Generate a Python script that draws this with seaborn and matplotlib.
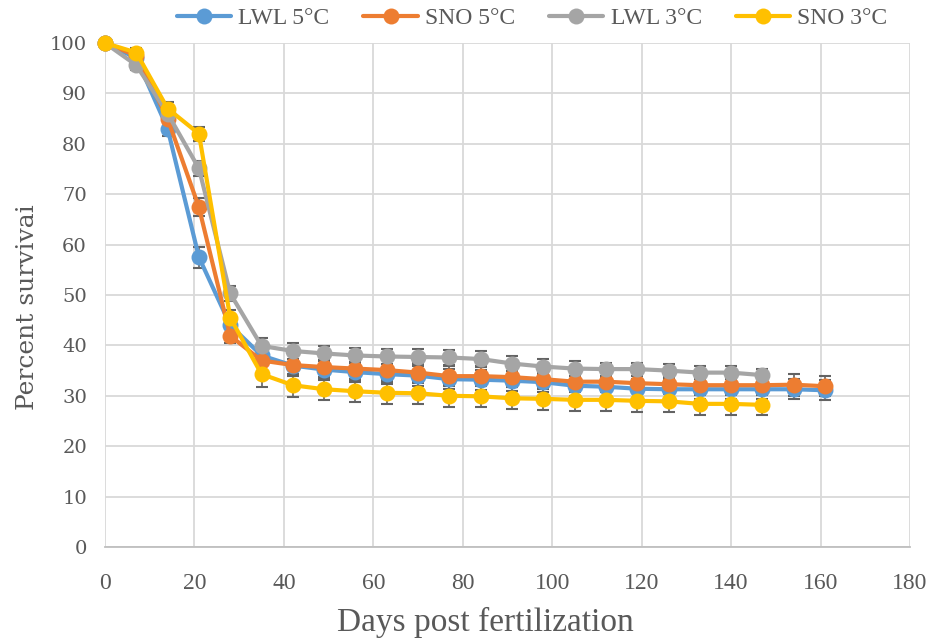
import numpy as np
import pandas as pd
import matplotlib
matplotlib.use("Agg")
import matplotlib.pyplot as plt
import seaborn as sns

days_5c = [0, 7, 14, 21, 28, 35, 42, 49, 56, 63, 70, 77, 84, 91, 98, 105,
           112, 119, 126, 133, 140, 147, 154, 161]
days_3c = [0, 7, 14, 21, 28, 35, 42, 49, 56, 63, 70, 77, 84, 91, 98, 105,
           112, 119, 126, 133, 140, 147]

lwl_5c = [100, 97.0, 83.0, 57.5, 44.0, 38.0, 36.0, 35.2, 34.7, 34.3, 34.0, 33.3,
          33.2, 33.0, 32.7, 32.0, 31.8, 31.4, 31.3, 31.3, 31.3, 31.3, 31.3, 31.1]
sno_5c = [100, 97.5, 85.0, 67.4, 41.9, 37.0, 36.1, 35.7, 35.4, 35.1, 34.6, 33.9,
          33.9, 33.7, 33.3, 32.8, 32.8, 32.5, 32.3, 32.1, 32.1, 32.1, 32.2, 31.9]
lwl_3c = [100, 95.6, 86.0, 75.1, 50.3, 39.9, 38.9, 38.4, 38.0, 37.8, 37.7, 37.6,
          37.3, 36.4, 35.8, 35.4, 35.3, 35.3, 35.0, 34.6, 34.6, 34.1]
sno_3c = [100, 98.1, 87.0, 82.0, 45.5, 34.3, 32.1, 31.3, 30.9, 30.6, 30.5, 30.0,
          29.9, 29.5, 29.4, 29.2, 29.2, 29.0, 28.9, 28.4, 28.4, 28.2]

lwl_5c_err = [0.3, 1.0, 1.4, 2.1, 2.0, 2.0, 2.0, 2.0, 2.0, 2.0, 2.0, 2.0,
              2.0, 2.0, 2.0, 2.0, 2.0, 2.0, 2.0, 2.0, 2.0, 2.0, 2.0, 2.0]
sno_5c_err = [0.3, 1.0, 1.5, 1.8, 1.5, 2.0, 2.0, 2.0, 2.0, 2.0, 2.0, 2.0,
              2.0, 2.0, 2.0, 2.0, 2.0, 2.0, 2.0, 2.0, 2.0, 2.0, 2.2, 2.0]
lwl_3c_err = [0.3, 1.0, 1.5, 1.5, 1.5, 1.5, 1.5, 1.5, 1.5, 1.5, 1.5, 1.5,
              1.5, 1.5, 1.5, 1.5, 1.3, 1.3, 1.3, 1.3, 1.3, 1.3]
sno_3c_err = [0.3, 1.0, 1.2, 1.4, 1.5, 2.5, 2.3, 2.2, 2.2, 2.2, 2.2, 2.2,
              2.2, 2.2, 2.2, 2.2, 2.2, 2.2, 2.2, 2.2, 2.2, 2.0]

series_names = ["LWL 5°C", "SNO 5°C", "LWL 3°C", "SNO 3°C"]
series_colors = ["#5B9BD5", "#ED7D31", "#A5A5A5", "#FFC000"]

frames = []
for name, d, v, e in zip(series_names,
                         [days_5c, days_5c, days_3c, days_3c],
                         [lwl_5c, sno_5c, lwl_3c, sno_3c],
                         [lwl_5c_err, sno_5c_err, lwl_3c_err, sno_3c_err]):
    frames.append(pd.DataFrame({"day": d, "survival": v, "err": e, "group": name}))
df = pd.concat(frames, ignore_index=True)

sns.set_theme(style="white")
plt.rcParams["font.family"] = ["DejaVu Serif"]

fig = plt.figure(figsize=(9.35, 6.42), dpi=100)
ax = fig.add_axes([105 / 935, 1 - 547 / 642, 805 / 935, 504 / 642])

# error bars first, lines and markers on top
for i, (name, color) in enumerate(zip(series_names, series_colors)):
    sub = df[df["group"] == name]
    ax.errorbar(sub["day"], sub["survival"], yerr=sub["err"], fmt="none",
                ecolor="#636363", elinewidth=1.2, capsize=4.5, capthick=1.5,
                zorder=2 + i * 0.1, clip_on=False)

sns.lineplot(data=df, x="day", y="survival", hue="group", hue_order=series_names,
             palette=series_colors, marker="o", markersize=11.5, markeredgewidth=0,
             linewidth=3.0, dashes=False, ax=ax, zorder=3, clip_on=False,
             legend=False)

ax.set_xlim(0, 180)
ax.set_ylim(0, 100)
ax.set_xticks(np.arange(0, 181, 20))
ax.set_xticks(np.arange(0, 181, 10), minor=True)
ax.set_yticks(np.arange(0, 101, 10))

ax.grid(True, which="major", color="#D9D9D9", linewidth=1.3)
ax.set_axisbelow(True)
for side in ["top", "right", "left"]:
    ax.spines[side].set_visible(False)
ax.spines["bottom"].set_color("#BFBFBF")
ax.spines["bottom"].set_linewidth(1.3)

ax.tick_params(axis="x", which="both", direction="out", length=5, width=1.2,
               color="#BFBFBF", pad=14, labelsize=17, labelcolor="#595959")
ax.tick_params(axis="y", which="major", direction="out", length=5, width=1.2,
               color="#D9D9D9", pad=8, labelsize=14, labelcolor="#595959")
for lab in ax.get_xticklabels():
    lab.set_fontfamily("Liberation Serif")

ax.set_xlabel("Days post fertilization", fontsize=24, color="#595959",
              family="Liberation Serif")
ax.set_ylabel("Percent survivai", fontsize=18, color="#595959")
ax.xaxis.set_label_coords((485 - 105) / 805, (547 - 622) / 504)
ax.yaxis.set_label_coords((28 - 105) / 805, (547 - 307) / 504)
ax.xaxis.label.set_verticalalignment("center")
ax.yaxis.label.set_verticalalignment("center")

handles = [plt.Line2D([], [], color=c, marker="o", markersize=11.5, linewidth=3.0,
                      markeredgewidth=0) for c in series_colors]
fig.legend(handles, series_names, loc="center", bbox_to_anchor=(532 / 935, 1 - 18 / 642),
           ncol=4, frameon=False, handlelength=2.3, handletextpad=0.3,
           columnspacing=1.45, prop={"family": "Liberation Serif", "size": 17},
           labelcolor="#595959")

fig.savefig("out.png", dpi=100)
